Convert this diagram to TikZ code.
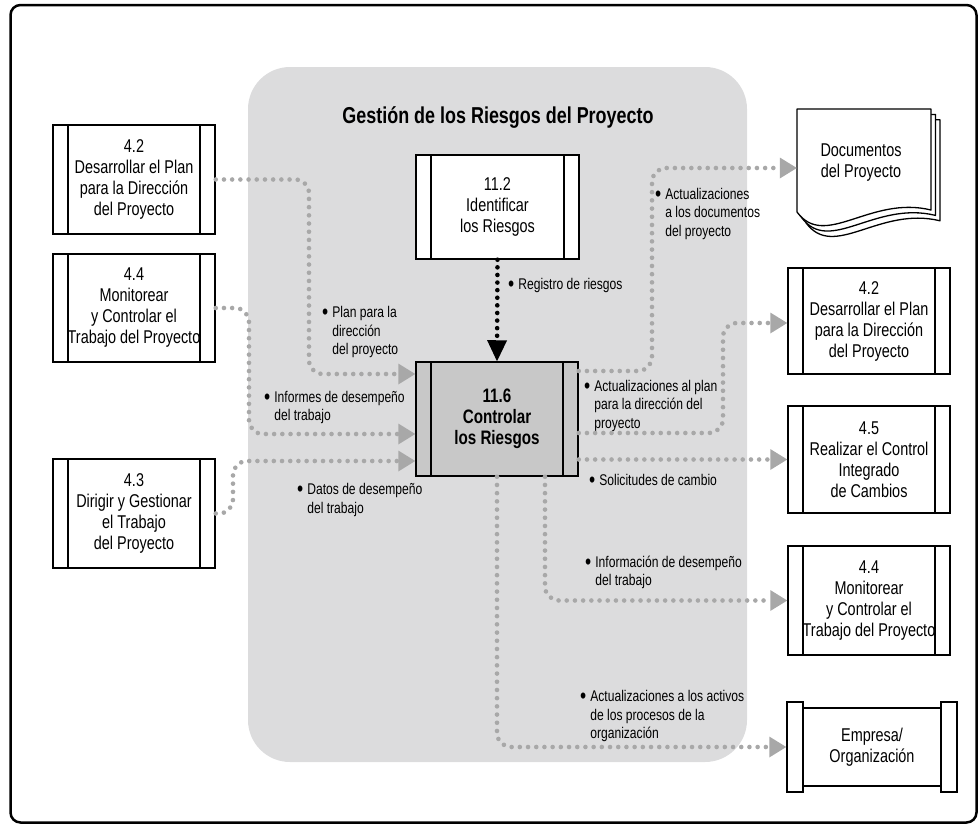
\documentclass[tikz,border=0pt]{standalone}
\usepackage{fontspec}
\usepackage{graphicx}
\setmainfont[FakeStretch=0.78]{Liberation Sans}
\usetikzlibrary{arrows.meta}

\definecolor{regiongray}{HTML}{DCDCDD}
\definecolor{coregray}{HTML}{C8C8C8}
\definecolor{dotgray}{HTML}{A8A8A8}

\newcommand{\boxfont}{\fontsize{18.5}{21}\selectfont}
\newcommand{\corefont}{\fontsize{19.5}{21}\selectfont\bfseries}
\newcommand{\lblfont}{\fontsize{15.5}{18.5}\selectfont}
\newcommand{\lblbul}{\raisebox{-2pt}{\scalebox{1.45}{\textbullet}}\hspace{4pt}}
\newcommand{\lblind}{\hphantom{\scalebox{1.45}{\textbullet}}\hspace{4pt}}

\tikzset{
  procbox/.style={draw, line width=1.5pt, fill=white, align=center, inner sep=0pt,
    font=\boxfont, minimum width=162pt, minimum height=108pt,
    path picture={\draw[line width=1.5pt]
      ([xshift=15pt]path picture bounding box.north west) -- ([xshift=15pt]path picture bounding box.south west)
      ([xshift=-15pt]path picture bounding box.north east) -- ([xshift=-15pt]path picture bounding box.south east);}},
  scrollbar/.style={draw, line width=1.5pt, fill=white, minimum width=16pt, minimum height=90pt, inner sep=0pt},
  lbl/.style={anchor=west, align=left, inner sep=0pt, font=\lblfont},
  flow/.style={draw=dotgray, line width=4.6pt, line cap=round, dash pattern=on 0pt off 8.2pt,
    rounded corners=14pt, -{Triangle[length=17pt,width=21pt,line width=0pt]}},
  kflow/.style={draw=black, line width=4.6pt, line cap=round, dash pattern=on 0pt off 7.6pt,
    -{Triangle[length=21pt,width=20pt,line width=0pt]}},
  page/.style={line width=1.3pt, fill=white, line join=round}
}

\begin{document}
\begin{tikzpicture}[x=1pt,y=-1pt]
\useasboundingbox (0,0) rectangle (978,825);

% process group background
\fill[regiongray, rounded corners=42pt] (248,67) rectangle (747,762);
\node[font=\fontsize{23}{26}\selectfont\bfseries] (title) at (498,117) {Gestión de los Riesgos del Proyecto};

% inputs
\node[procbox, minimum height=109pt] (L42) at (134,179.5) {4.2\\Desarrollar el Plan\\para la Dirección\\del Proyecto};
\node[procbox] (L44) at (134,308) {4.4\\Monitorear\\y Controlar el\\Trabajo del Proyecto};
\node[procbox, minimum height=109pt] (L43) at (134,513.5) {4.3\\Dirigir y Gestionar\\el Trabajo\\del Proyecto};

% central processes
\node[procbox, minimum width=163pt, minimum height=104pt] (C112) at (497.5,207) {11.2\\Identificar\\los Riesgos};
\node[procbox, fill=coregray, font=\corefont, minimum height=114pt] (C116) at (497,419) {11.6\\Controlar\\los Riesgos};

% outputs
\foreach \d in {9,4.5,0}
  \draw[page, shift={(\d,1.2*\d)}] (797,109) -- (931,109) -- (931,210)
    .. controls (870,195) and (825,250) .. (797,212) -- cycle;
\node[minimum width=134pt, minimum height=103pt, inner sep=0pt] (docs) at (864,160.5) {};
\node[font=\boxfont, align=center, inner sep=0pt] (docstxt) at (861,163) {Documentos\\del Proyecto};

\node[procbox, minimum height=106pt] (R42) at (869,321) {4.2\\Desarrollar el Plan\\para la Dirección\\del Proyecto};
\node[procbox, minimum height=107pt] (R45) at (869,459.5) {4.5\\Realizar el Control\\Integrado\\de Cambios};
\node[procbox, minimum height=109pt] (R44) at (869,600.5) {4.4\\Monitorear\\y Controlar el\\Trabajo del Proyecto};

\node[draw, line width=1.5pt, fill=white, minimum width=138pt, minimum height=78pt, inner sep=0pt,
  align=center, font=\boxfont] (emp) at (872,747) {Empresa/\\Organización};
\node[scrollbar] (empL) at (795,747) {};
\node[scrollbar] (empR) at (949,747) {};

% flow labels
\node[lbl] (lplan) at (322,332) {\lblbul Plan para la\\\lblind dirección\\\lblind del proyecto};
\node[lbl] (linf) at (264,407.5) {\lblbul Informes de desempeño\\\lblind del trabajo};
\node[lbl] (ldat) at (297,500) {\lblbul Datos de desempeño\\\lblind del trabajo};
\node[lbl] (lreg) at (508,285) {\lblbul Registro de riesgos};
\node[lbl] (ldoc) at (655,213.5) {\lblbul Actualizaciones\\\lblind a los documentos\\\lblind del proyecto};
\node[lbl] (lplan2) at (584,405.5) {\lblbul Actualizaciones al plan\\\lblind para la dirección del\\\lblind proyecto};
\node[lbl] (lsol) at (589,481) {\lblbul Solicitudes de cambio};
\node[lbl] (linfo) at (585,572.5) {\lblbul Información de desempeño\\\lblind del trabajo};
\node[lbl] (lact) at (580,716) {\lblbul Actualizaciones a los activos\\\lblind de los procesos de la\\\lblind organización};

% flows into 11.6
\draw[flow] (L42.east) -| (309,374) -- ([yshift=45pt]C116.west);
\draw[flow] (L44.east) -| (249,434) -- ([yshift=-15pt]C116.west);
\draw[flow] (L43.east) -| (233,461) -- ([yshift=-42pt]C116.west);
\draw[kflow] (C112.south) -- (C116.north);

% flows out of 11.6
\draw[flow] ([yshift=48pt]C116.east) -| (652,168) -- ([yshift=-7.5pt]docs.west);
\draw[flow] ([yshift=-14pt]C116.east) -| (723,323) -- ([yshift=-2pt]R42.west);
\draw[flow] (R45.west -| C116.east) -- (R45.west);
\draw[flow] ([xshift=48pt]C116.south) |- (R44.west);
\draw[flow] (C116.south) |- (empL.west);

% frame
\draw[line width=2.5pt, rounded corners=10pt] (10.5,5) rectangle (976.5,822.5);
\end{tikzpicture}
\end{document}
